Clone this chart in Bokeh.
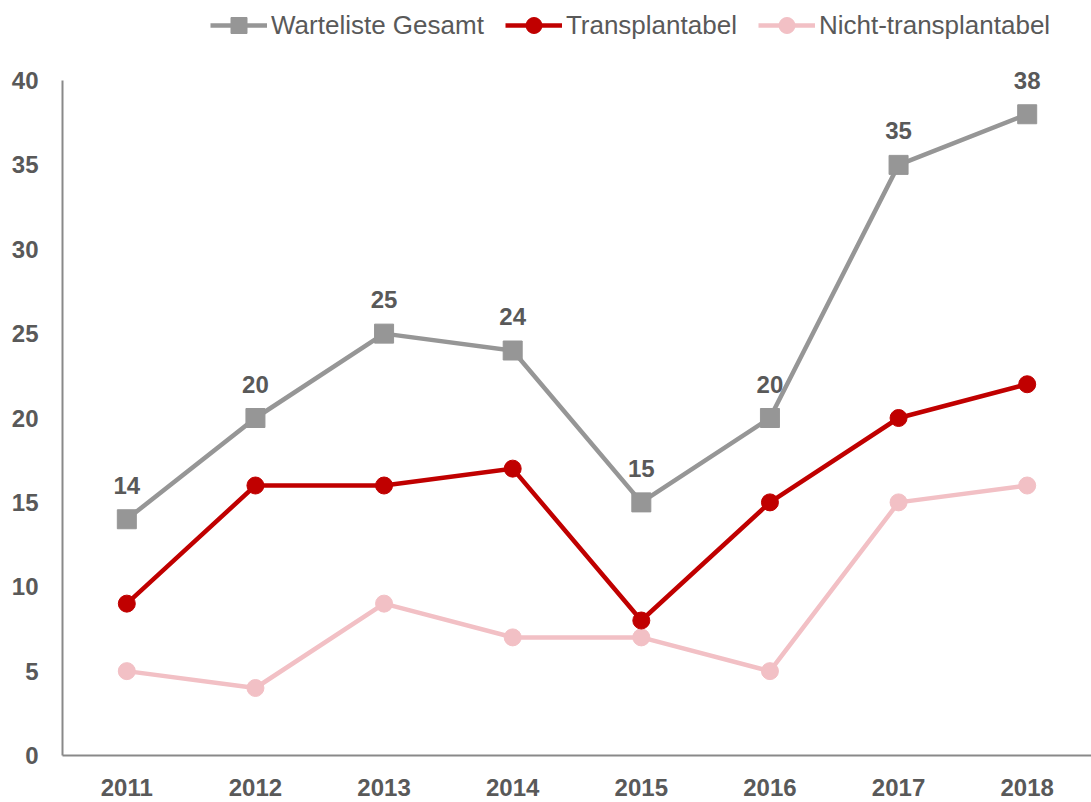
from bokeh.plotting import figure
from bokeh.models import Range1d, FixedTicker, Legend, LegendItem, ColumnDataSource
from bokeh.core.properties import value
from bokeh.embed import file_html
from bokeh.resources import INLINE

years = ["2011", "2012", "2013", "2014", "2015", "2016", "2017", "2018"]
gesamt = [14, 20, 25, 24, 15, 20, 35, 38]
transplantabel = [9, 16, 16, 17, 8, 15, 20, 22]
nicht_transplantabel = [5, 4, 9, 7, 7, 5, 15, 16]
labels = ["Warteliste Gesamt", "Transplantabel", "Nicht-transplantabel"]
y_ticks = [0, 5, 10, 15, 20, 25, 30, 35, 40]

FONT = "Liberation Sans"
TXT = "#595959"
GRAY = "#969696"
RED = "#C00000"
PINK = "#F2C0C5"

# frame spans the full height above the x axis; the y axis line stops at 40
y_top = 40 * 755 / 675
p = figure(x_range=years, y_range=Range1d(0, y_top), width=1091, height=802,
           output_backend="svg", toolbar_location=None,
           min_border_left=62, min_border_right=0, min_border_top=0, min_border_bottom=47)
p.outline_line_color = None
p.grid.grid_line_color = None
p.x_range.range_padding = 0

for ax in (p.xaxis[0], p.yaxis[0]):
    ax.axis_line_color = "#898989"
    ax.axis_line_width = 2
    ax.major_tick_line_color = None
    ax.minor_tick_line_color = None
    ax.major_tick_out = 0
    ax.major_tick_in = 0
    ax.minor_tick_out = 0
    ax.minor_tick_in = 0
    ax.major_label_text_font = FONT
    ax.major_label_text_font_size = "24px"
    ax.major_label_text_font_style = "bold"
    ax.major_label_text_color = TXT
p.yaxis.ticker = FixedTicker(ticks=y_ticks)
p.yaxis.bounds = (0, 40)
p.yaxis.major_label_standoff = 24
p.xaxis.major_label_standoff = 23

src = ColumnDataSource(dict(x=years, g=gesamt, t=transplantabel, n=nicht_transplantabel,
                            lab=[str(v) for v in gesamt]))

r_n = p.line("x", "n", source=src, line_color=PINK, line_width=4.5)
c_n = p.scatter("x", "n", source=src, marker="circle", size=17, fill_color=PINK, line_color=PINK)
r_t = p.line("x", "t", source=src, line_color=RED, line_width=4.5)
c_t = p.scatter("x", "t", source=src, marker="circle", size=17, fill_color=RED, line_color=RED)
r_g = p.line("x", "g", source=src, line_color=GRAY, line_width=4.5)
c_g = p.scatter("x", "g", source=src, marker="square", size=19, fill_color=GRAY, line_color=GRAY)

p.text("x", "g", text="lab", source=src, y_offset=-34, text_align="center",
       text_baseline="middle", text_font=value(FONT), text_font_size="24px",
       text_font_style="bold", text_color=TXT)

legend = Legend(items=[LegendItem(label=labels[0], renderers=[r_g, c_g]),
                       LegendItem(label=labels[1], renderers=[r_t, c_t]),
                       LegendItem(label=labels[2], renderers=[r_n, c_n])],
                orientation="horizontal", location=(148, 710),
                label_text_font=FONT, label_text_font_size="26px", label_text_color=TXT,
                glyph_width=57, glyph_height=40, label_standoff=4, spacing=21,
                border_line_color=None, background_fill_alpha=0,
                padding=0, margin=0)
p.add_layout(legend, "center")

open("out.html", "w").write(file_html(p, INLINE))
